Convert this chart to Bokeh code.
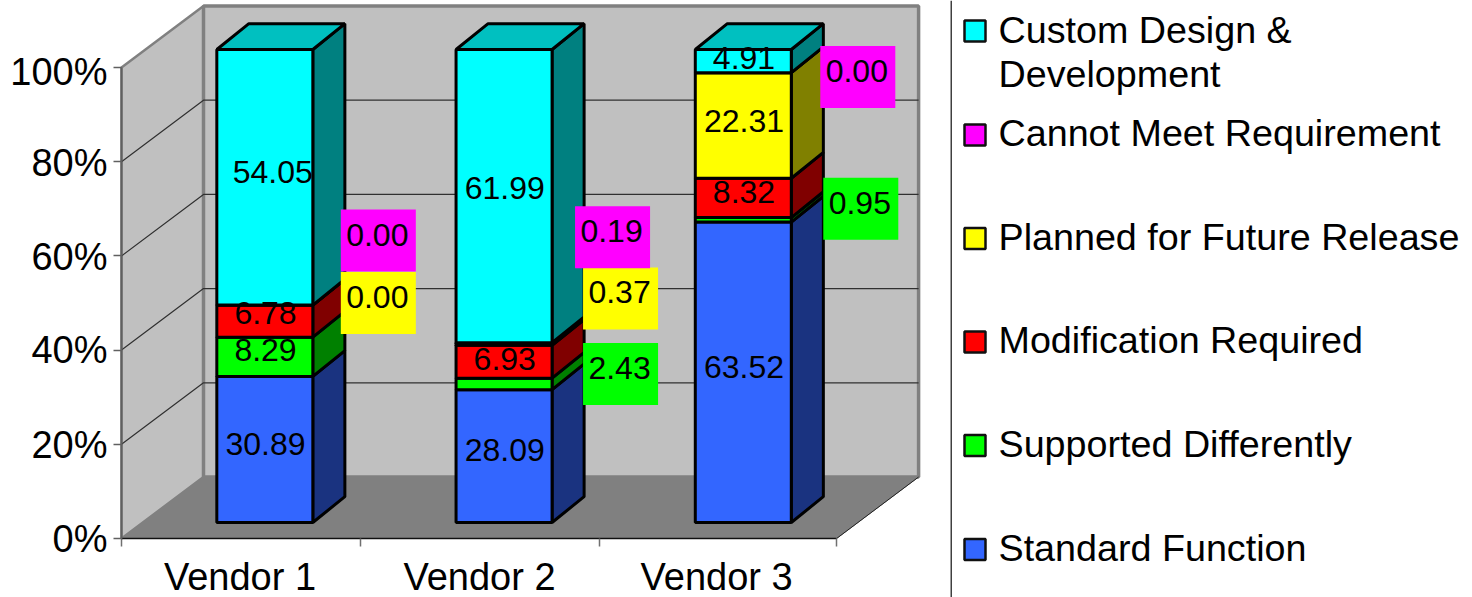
from bokeh.core.properties import value
from bokeh.embed import file_html
from bokeh.layouts import row
from bokeh.models import FixedTicker, Range1d
from bokeh.plotting import figure
from bokeh.resources import INLINE

# Share of requirements by response type, stacked from the floor upwards
vendors = ["Vendor 1", "Vendor 2", "Vendor 3"]
standard_function = [30.89, 28.09, 63.52]
supported_differently = [8.29, 2.43, 0.95]
modification_required = [6.78, 6.93, 8.32]
planned_future_release = [0.00, 0.37, 22.31]
cannot_meet = [0.00, 0.19, 0.00]
custom_design = [54.05, 61.99, 4.91]
series_names = [
    "Standard Function",
    "Supported Differently",
    "Modification Required",
    "Planned for Future Release",
    "Cannot Meet Requirement",
    "Custom Design &\nDevelopment",
]
y_ticks = [0, 20, 40, 60, 80, 100]

series = [standard_function, supported_differently, modification_required,
          planned_future_release, cannot_meet, custom_design]
front_colors = ["#3366FF", "#00FF00", "#FF0000", "#FFFF00", "#FF00FF", "#00FFFF"]
side_colors = ["#1A3380", "#008000", "#800000", "#808000", "#800080", "#008080"]
top_color = "#00C0C0"

# Pixel scale of the plot area and the oblique projection of the box
PX_X = 239.0
PX_Y = 4.71
DEPTH_DX = 82.0
DEPTH_DY = 61.5
BAR_HEIGHT_SCALE = 4.73 / 4.71
BAR_FRONT = 0.26
BAR_BACK = 0.68
BAR_BACK_SKEW = -0.01
BAR_LEFT = 0.3096
BAR_WIDTH = 0.4017
BOX_RIGHT = 2.992


def project(u, v, d):
    """Category position u, percentage v and depth d (0 front, 1 back) to plot data."""
    return u + d * DEPTH_DX / PX_X, v + d * DEPTH_DY / PX_Y


def quad(corners):
    pts = [project(*c) for c in corners]
    return [q[0] for q in pts], [q[1] for q in pts]


# The frame fills the panel; both axes are pinned to the box's front edges
p = figure(
    width=950, height=597, output_backend="svg", toolbar_location=None,
    x_range=Range1d(-121 / PX_X, (950 - 121) / PX_X),
    y_range=Range1d(-59 / PX_Y, 538 / PX_Y),
    min_border=0, outline_line_color=None, background_fill_color="white",
)
p.grid.visible = False

# Walls and floor of the chart box
wall_gray, edge_gray = "#C0C0C0", "#808080"
xs, ys = quad([(0, 0, 0), (0, 100, 0), (0, 100, 1), (0, 0, 1)])
p.patch(xs, ys, fill_color=wall_gray, line_color=edge_gray, line_width=2.5)
xs, ys = quad([(0, 0, 1), (0, 100, 1), (BOX_RIGHT, 100, 1), (BOX_RIGHT, 0, 1)])
p.patch(xs, ys, fill_color=wall_gray, line_color=edge_gray, line_width=3.5)
xs, ys = quad([(0, 0, 0), (0, 0, 1), (BOX_RIGHT, 0, 1), (BOX_RIGHT, 0, 0)])
p.patch(xs, ys, fill_color="#808080", line_color="#808080", line_width=1)
xs, ys = quad([(BOX_RIGHT, 0, 0), (BOX_RIGHT, 0, 1)])
p.line(xs, ys, line_color="#202020", line_width=1)

# Gridlines run along the left wall and across the back wall
grid_xs, grid_ys = [], []
for t in y_ticks[1:-1]:
    xs, ys = quad([(0, t, 0), (0, t, 1), (BOX_RIGHT, t, 1)])
    grid_xs.append(xs)
    grid_ys.append(ys)
p.multi_line(grid_xs, grid_ys, line_color="#303030", line_width=1.2)

# Stacked boxes
for i in range(len(vendors)):
    left = BAR_LEFT + i * 1.001
    right = left + BAR_WIDTH
    base = 0.0
    for s, vals in enumerate(series):
        lo = base * BAR_HEIGHT_SCALE
        hi = (base + vals[i]) * BAR_HEIGHT_SCALE
        back_right = right + BAR_BACK_SKEW
        xs, ys = quad([(right, lo, BAR_FRONT), (right, hi, BAR_FRONT),
                       (back_right, hi, BAR_BACK), (back_right, lo, BAR_BACK)])
        p.patch(xs, ys, fill_color=side_colors[s], line_color="black", line_width=3)
        xs, ys = quad([(left, lo, BAR_FRONT), (left, hi, BAR_FRONT),
                       (right, hi, BAR_FRONT), (right, lo, BAR_FRONT)])
        p.patch(xs, ys, fill_color=front_colors[s], line_color="black", line_width=3)
        base += vals[i]
    top = base * BAR_HEIGHT_SCALE
    xs, ys = quad([(left, top, BAR_FRONT), (left + BAR_BACK_SKEW, top, BAR_BACK),
                   (right + BAR_BACK_SKEW, top, BAR_BACK), (right, top, BAR_FRONT)])
    p.patch(xs, ys, fill_color=top_color, line_color="black", line_width=3)

# Value labels, nudged in pixels from the middle of each segment's front face;
# labels moved off a thin segment get a filled box in the segment's colour
label_nudge = {
    (0, 0): (0.7, -5), (0, 1): (0.7, -7), (0, 2): (0.7, -8), (0, 3): (113.5, -2),
    (0, 4): (113.5, -64.6), (0, 5): (8, -5),
    (1, 0): (0.7, -5.6), (1, 1): (116.5, -10), (1, 2): (0.7, -3), (1, 3): (116.5, -46),
    (1, 4): (108.5, -106), (1, 5): (0.7, -8.6),
    (2, 0): (0.7, -5), (2, 1): (117.5, -11), (2, 2): (0.7, -5.4), (2, 3): (0.7, -4),
    (2, 4): (114.5, 4.3), (2, 5): (0.7, -3),
}
for i in range(len(vendors)):
    center = BAR_LEFT + i * 1.001 + BAR_WIDTH / 2
    base = 0.0
    for s, vals in enumerate(series):
        mid = (base + vals[i] / 2) * BAR_HEIGHT_SCALE
        x, y = project(center, mid, BAR_FRONT)
        dx, dy = label_nudge[(i, s)]
        x += dx / PX_X
        y -= dy / PX_Y
        if dx > 50:
            p.rect([x], [y], width=75, height=62, width_units="screen",
                   height_units="screen", fill_color=front_colors[s], line_color=None)
            x -= 1 / PX_X
            y += 6 / PX_Y
        p.text([x], [y], text=[f"{vals[i]:.2f}"], text_font=value("Liberation Sans"),
               text_font_size="32px", text_color="black",
               text_align="center", text_baseline="middle")
        base += vals[i]

# Percentage axis on the front edge of the left wall; each name sits just under its mark
y_label_at = [-0.2, 19.8, 40, 59.8, 79.8, 99.1]
p.yaxis.fixed_location = 0
p.yaxis.ticker = FixedTicker(ticks=y_label_at, minor_ticks=y_ticks)
p.yaxis.major_label_overrides = {at: f"{t}%" for at, t in zip(y_label_at, y_ticks)}
p.yaxis.bounds = (0, 100)
p.yaxis.axis_line_color = "#606060"
p.yaxis.axis_line_width = 2
p.yaxis.major_tick_line_color = None
p.yaxis.major_tick_out = 0
p.yaxis.major_tick_in = 0
p.yaxis.minor_tick_line_color = "#606060"
p.yaxis.minor_tick_line_width = 1.5
p.yaxis.minor_tick_out = 8
p.yaxis.minor_tick_in = 0
p.yaxis.major_label_standoff = 6
p.yaxis.major_label_text_font = "Liberation Sans"
p.yaxis.major_label_text_font_size = "38px"
p.yaxis.major_label_text_color = "black"

# Category axis: tick marks fall between vendors, names sit between the tick marks
name_ticks = [0.496, 1.498, 2.49]
p.xaxis.fixed_location = 0
p.xaxis.ticker = FixedTicker(ticks=name_ticks, minor_ticks=[0, 1, 2, BOX_RIGHT])
p.xaxis.major_label_overrides = dict(zip(name_ticks, vendors))
p.xaxis.bounds = (0, BOX_RIGHT)
p.xaxis.axis_line_color = "#101010"
p.xaxis.axis_line_width = 1.5
p.xaxis.major_tick_line_color = None
p.xaxis.minor_tick_line_color = "#707070"
p.xaxis.minor_tick_line_width = 1.5
p.xaxis.minor_tick_out = 8
p.xaxis.minor_tick_in = 0
p.xaxis.major_tick_out = 0
p.xaxis.major_tick_in = 0
p.xaxis.major_label_standoff = 9
p.xaxis.major_label_text_font = "Liberation Sans"
p.xaxis.major_label_text_font_size = "38px"
p.xaxis.major_label_text_color = "black"

# Legend panel to the right of the chart, in page pixels
legend_rows = [549, 445, 341.5, 238, 134.5, 30.5]
legend_text_y = [547, 443, 339.5, 236, 132.5, 51.5]

q = figure(
    width=522, height=597, output_backend="svg", toolbar_location=None,
    x_range=Range1d(950, 1472), y_range=Range1d(597, 0),
    min_border=0, outline_line_color=None, background_fill_color="white",
)
q.axis.visible = False
q.grid.visible = False
q.segment([950.5], [0], [950.5], [597], line_color="black", line_width=1.5)
q.rect([974.5] * 6, legend_rows, width=21, height=21, fill_color=front_colors,
       line_color="#101010", line_width=2.5)
q.text([998] * 6, legend_text_y, text=series_names, text_font=value("Liberation Sans"),
       text_font_size="37.7px", text_color="black", text_align="left",
       text_baseline="middle", text_line_height=1.06)

layout = row(p, q, spacing=0)
open("out.html", "w").write(file_html(layout, INLINE))
